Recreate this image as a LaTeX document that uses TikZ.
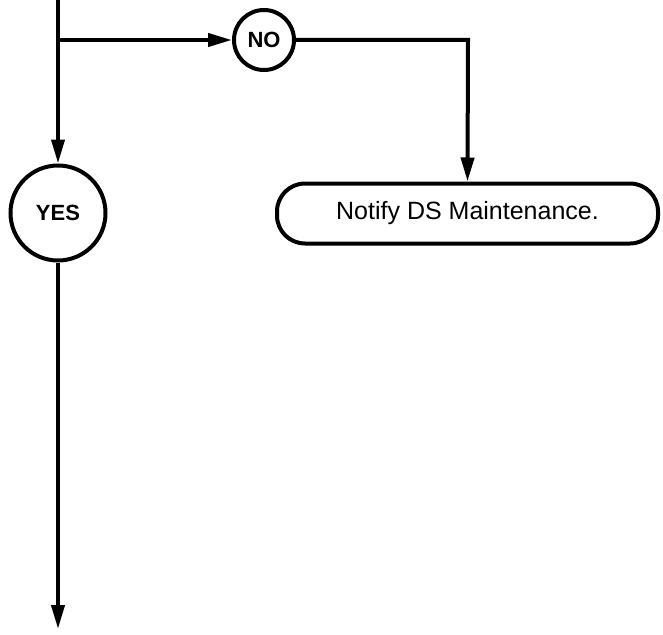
\documentclass[tikz,border=0pt]{standalone}
\usepackage{fontspec}
\setmainfont{Liberation Sans}
\usetikzlibrary{arrows.meta}
\begin{document}
\begin{tikzpicture}[x=1pt,y=-1pt,
  conn/.style={line width=4pt},
  arr/.style={conn,-{Triangle[length=24pt,width=13pt]}},
  decision/.style={circle,draw,line width=4pt,inner sep=0pt,font=\bfseries\fontsize{22}{25}\selectfont},
  actionbox/.style={rectangle,draw,line width=4pt,rounded corners=28pt,minimum width=381pt,minimum height=60pt,inner sep=0pt,font=\fontsize{25}{29}\selectfont}]
\useasboundingbox (0,0) rectangle (663,634);
\coordinate (top) at (58,-3);
\coordinate (split) at (58,40);
\node[decision,minimum size=60pt] (no) at (264,40) {NO};
\node[decision,minimum size=95pt] (yes) at (58,213) {YES};
\node[actionbox] (notify) at (467.5,213.5) {Notify DS Maintenance.};
\coordinate (bend) at (468,40);
\coordinate (end) at (58,629);
\draw[arr] (top) -- (yes.north);
\draw[arr] (split) -- (no.west);
\draw[arr] (no.east) -- (bend) -- (notify.north);
\draw[arr] (yes.south) -- (end);
\end{tikzpicture}
\end{document}
